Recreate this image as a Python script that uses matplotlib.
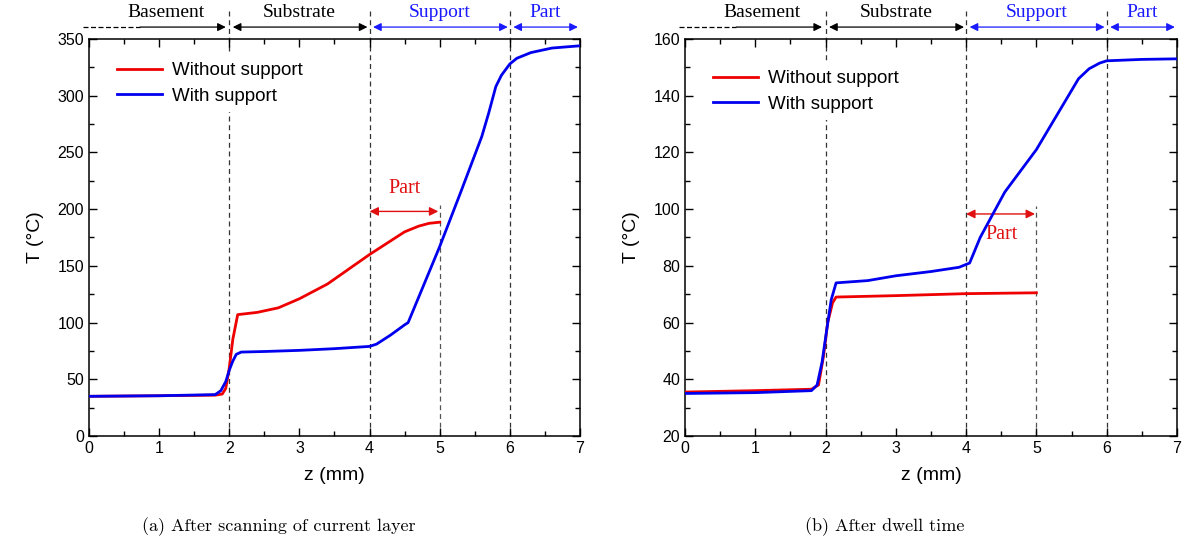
import matplotlib
matplotlib.use("Agg")
import matplotlib.pyplot as plt
from matplotlib.ticker import MultipleLocator
import matplotlib.transforms as mtrans

plt.rcParams['font.family'] = ['Liberation Sans', 'DejaVu Sans']

# (a) after scanning of current layer
za_wo = [0, 1, 1.8, 1.9, 1.95, 2.0, 2.05, 2.12, 2.4, 2.7, 3.0, 3.4, 3.7, 4.0, 4.2, 4.5, 4.7, 4.85, 5.0]
Ta_wo = [35, 35.5, 36, 37, 42, 60, 85, 107, 109, 113, 121, 134, 147, 160, 168, 180, 185, 187.5, 188.5]
za_w = [0, 1, 1.8, 1.88, 1.95, 2.0, 2.05, 2.1, 2.17, 2.5, 3.0, 3.5, 4.0, 4.1, 4.3, 4.5, 4.55,
        5.0, 5.3, 5.6, 5.7, 5.8, 5.88, 6.0, 6.1, 6.3, 6.6, 7.0]
Ta_w = [35, 35.5, 36.5, 40, 48, 58, 66, 72, 74, 74.5, 75.5, 77, 79, 81, 89, 98, 100,
        167, 215, 264, 285, 308, 318, 328, 333, 338, 342, 344]

# (b) after dwell time
zb_wo = [0, 1, 1.8, 1.9, 1.97, 2.03, 2.1, 2.15, 3, 4, 5]
Tb_wo = [35.5, 36, 36.5, 38, 48, 60, 67, 69, 69.5, 70.2, 70.5]
zb_w = [0, 1, 1.8, 1.88, 1.95, 2.02, 2.08, 2.15, 2.6, 3.0, 3.5, 3.9, 4.05, 4.2, 4.55,
        5.0, 5.6, 5.75, 5.9, 6.0, 6.5, 7.0]
Tb_w = [35, 35.3, 36, 38, 46, 58, 68, 74, 74.8, 76.5, 78, 79.5, 81, 90, 106,
        121, 146, 149.5, 151.5, 152.3, 152.8, 153]

zones = ["Basement", "Substrate", "Support", "Part"]
zone_edges = [0, 2, 4, 6, 7]
zone_colors = ["black", "black", "#1a1aff", "#1a1aff"]

fig = plt.figure(figsize=(11.88, 5.49), dpi=100)
ax1 = fig.add_axes([0.0749, 0.2058, 0.4133, 0.7232])
ax2 = fig.add_axes([0.5766, 0.2058, 0.4141, 0.7232])

serif = 'Liberation Serif'


def setup(ax, ymin, ymax, ymaj, ymin_step):
    ax.set_xlim(0, 7)
    ax.set_ylim(ymin, ymax)
    ax.xaxis.set_major_locator(MultipleLocator(1))
    ax.xaxis.set_minor_locator(MultipleLocator(0.5))
    ax.yaxis.set_major_locator(MultipleLocator(ymaj))
    ax.yaxis.set_minor_locator(MultipleLocator(ymin_step))
    ax.tick_params(which='both', direction='in', top=True, right=True, labelsize=11.5)
    ax.tick_params(which='major', length=6, width=1)
    ax.tick_params(which='minor', length=3.5, width=1)
    for s in ax.spines.values():
        s.set_linewidth(1.1)
    ax.set_xlabel("z (mm)", fontsize=14, labelpad=8)
    ax.set_ylabel("T (°C)", fontsize=14, labelpad=10)


def zone_arrows(ax):
    tr = mtrans.blended_transform_factory(ax.transData, ax.transAxes)
    ya = 1.030
    # dashed lead-in of the basement arrow
    ax.plot([-0.09, 0.73], [ya, ya], transform=tr, color='black', lw=0.9,
            ls=(0, (4, 2)), clip_on=False)
    ax.annotate("", xy=(1.95, ya), xytext=(0.73, ya), xycoords=tr, textcoords=tr,
                arrowprops=dict(arrowstyle='-|>', color='black', lw=0.9,
                                shrinkA=0, shrinkB=0, mutation_scale=12))
    for i in range(1, 4):
        x0, x1 = zone_edges[i], zone_edges[i + 1]
        ax.annotate("", xy=(x1 - 0.03, ya), xytext=(x0 + 0.05, ya), xycoords=tr, textcoords=tr,
                    arrowprops=dict(arrowstyle='<|-|>', color=zone_colors[i], lw=0.9,
                                    shrinkA=0, shrinkB=0, mutation_scale=12))
    for i in range(4):
        xm = (zone_edges[i] + zone_edges[i + 1]) / 2
        if i == 0:
            xm = 1.1
        ax.text(xm, 1.066, zones[i], transform=tr, ha='center', va='center',
                fontsize=14, family=serif, color=zone_colors[i])
    for x in [2, 4, 6]:
        ax.plot([x, x], [0, 1.07], transform=tr, color='#333333', lw=0.9,
                ls=(0, (4, 3)), clip_on=False, zorder=1)


def part_arrow(ax, y, ytext, ytop, ybot):
    ax.plot([5, 5], [ybot, ytop], color='#555555', lw=0.9, ls=(0, (4, 3)), zorder=1)
    ax.annotate("", xy=(4.98, y), xytext=(4.0, y),
                arrowprops=dict(arrowstyle='<|-|>', color='#e01010', lw=1.0,
                                shrinkA=0, shrinkB=0, mutation_scale=13))
    ax.text(4.5, ytext, "Part", ha='center', va='center', fontsize=14.5,
            family=serif, color='#e01010')


def add_legend(ax, y):
    leg = ax.legend(loc='upper left', bbox_to_anchor=(0.035, y), frameon=True,
                    fontsize=13.5, handlelength=2.4, handletextpad=0.5,
                    labelspacing=0.45, borderaxespad=0.2)
    leg.get_frame().set_edgecolor('none')
    leg.get_frame().set_facecolor('white')
    leg.get_frame().set_alpha(1)


# ---- (a) ----
setup(ax1, 0, 350, 50, 25)
zone_arrows(ax1)
part_arrow(ax1, 198, 218, 204, 0)
ax1.plot(za_wo, Ta_wo, color='#ee0000', lw=2, label='Without support', zorder=3)
ax1.plot(za_w, Ta_w, color='#0000ee', lw=2, label='With support', zorder=3)
add_legend(ax1, 0.97)

# ---- (b) ----
setup(ax2, 20, 160, 20, 10)
zone_arrows(ax2)
part_arrow(ax2, 98.3, 91, 101, 20)
ax2.plot(zb_wo, Tb_wo, color='#ee0000', lw=2, label='Without support', zorder=3)
ax2.plot(zb_w, Tb_w, color='#0000ee', lw=2, label='With support', zorder=3)
add_legend(ax2, 0.95)

fig.text(0.235, 0.04, "(a) After scanning of current layer", fontsize=13,
         family=['cmr10', 'DejaVu Serif'], ha='center', va='center')
fig.text(0.745, 0.04, "(b) After dwell time", fontsize=13,
         family=['cmr10', 'DejaVu Serif'], ha='center', va='center')

fig.savefig("out.png", dpi=100)
